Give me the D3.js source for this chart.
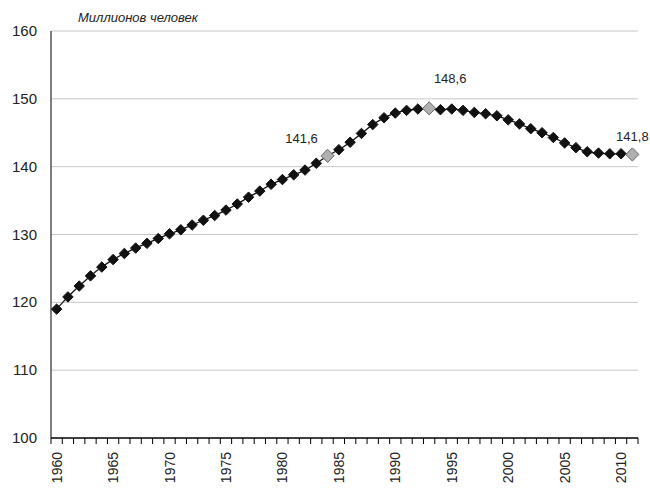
<!DOCTYPE html>
<html><head><meta charset="utf-8">
<script src="https://cdn.jsdelivr.net/npm/d3@7"></script>
<style>body{margin:0;background:#fff;font-family:"Liberation Sans",Arial,sans-serif}</style>
</head><body><div id="chart"></div>
<script>
const years = d3.range(1960, 2012);
const population = [119.0,120.8,122.4,123.9,125.2,126.3,127.2,128.0,128.7,129.4,
  130.1,130.7,131.4,132.1,132.8,133.6,134.5,135.5,136.4,137.4,
  138.1,138.8,139.5,140.5,141.6,142.5,143.6,144.9,146.2,147.2,
  147.9,148.3,148.5,148.6,148.4,148.5,148.3,148.0,147.8,147.5,
  146.9,146.3,145.6,145.0,144.3,143.5,142.8,142.2,142.0,141.9,141.9,141.8];
const highlighted = [1984, 1993, 2011];
const yTicks = [100, 110, 120, 130, 140, 150, 160];
const unitLabel = 'Миллионов человек';

const width = 650, height = 501;
const margin = {top: 31, right: 12, bottom: 63, left: 51};

const svg = d3.select('#chart').append('svg')
  .attr('width', width).attr('height', height);

const x = d3.scaleBand().domain(years).range([margin.left, width - margin.right]);
const y = d3.scaleLinear().domain([100, 160]).range([height - margin.bottom, margin.top]);

// gridlines
svg.append('g').selectAll('line').data(yTicks.slice(1)).enter().append('line')
  .attr('x1', margin.left).attr('x2', width - margin.right)
  .attr('y1', d => y(d)).attr('y2', d => y(d))
  .attr('stroke', '#c8c8c8').attr('stroke-width', 1);

// y axis
svg.append('line').attr('x1', margin.left).attr('x2', margin.left)
  .attr('y1', y(160)).attr('y2', y(100)).attr('stroke', '#000');
svg.append('g').selectAll('text').data(yTicks).enter().append('text')
  .attr('x', margin.left - 14).attr('y', d => y(d) + 5)
  .attr('text-anchor', 'end').attr('font-size', 15).attr('fill', '#222')
  .text(d => d);

// x axis
svg.append('line').attr('x1', margin.left).attr('x2', width - margin.right)
  .attr('y1', y(100)).attr('y2', y(100)).attr('stroke', '#000').attr('stroke-width', 1.5);
svg.append('g').selectAll('line').data(years.concat([2012])).enter().append('line')
  .attr('x1', d => d === 2012 ? width - margin.right : x(d))
  .attr('x2', d => d === 2012 ? width - margin.right : x(d))
  .attr('y1', y(100)).attr('y2', y(100) + 6).attr('stroke', '#000');
svg.append('g').selectAll('text').data(years.filter(d => d % 5 === 0)).enter().append('text')
  .attr('transform', d => `translate(${x(d) + x.bandwidth() / 2 + 5},${y(100) + 14}) rotate(-90)`)
  .attr('text-anchor', 'end').attr('font-size', 14).attr('fill', '#222')
  .text(d => d);

// unit label
svg.append('text').attr('x', 78).attr('y', 22)
  .attr('font-size', 13).attr('font-style', 'italic').attr('fill', '#222')
  .text(unitLabel);

const cx = d => x(d) + x.bandwidth() / 2;
const data = years.map((yr, i) => ({year: yr, value: population[i]}));

svg.append('path').datum(data)
  .attr('fill', 'none').attr('stroke', '#111').attr('stroke-width', 1.3)
  .attr('d', d3.line().x(d => cx(d.year)).y(d => y(d.value)).curve(d3.curveMonotoneX));

const diamond = d3.symbol().type(d3.symbolDiamond2);
svg.append('g').selectAll('path').data(data).enter().append('path')
  .attr('transform', d => `translate(${cx(d.year)},${y(d.value)})`)
  .attr('d', d => diamond.size(highlighted.includes(d.year) ? 110 : 70)())
  .attr('fill', d => highlighted.includes(d.year) ? '#b0b0b0' : '#111')
  .attr('stroke', d => highlighted.includes(d.year) ? '#666' : '#111')
  .attr('stroke-width', 1);

// value labels
svg.append('g').selectAll('text').data(data.filter(d => highlighted.includes(d.year))).enter().append('text')
  .attr('x', d => cx(d.year) + (d.year === 1984 ? -26 : d.year === 2011 ? 0 : 21))
  .attr('y', d => y(d.value) + (d.year === 1993 ? -25 : -13))
  .attr('text-anchor', 'middle').attr('font-size', 13).attr('fill', '#222')
  .text(d => d.value.toFixed(1).replace('.', ','));
</script></body></html>
